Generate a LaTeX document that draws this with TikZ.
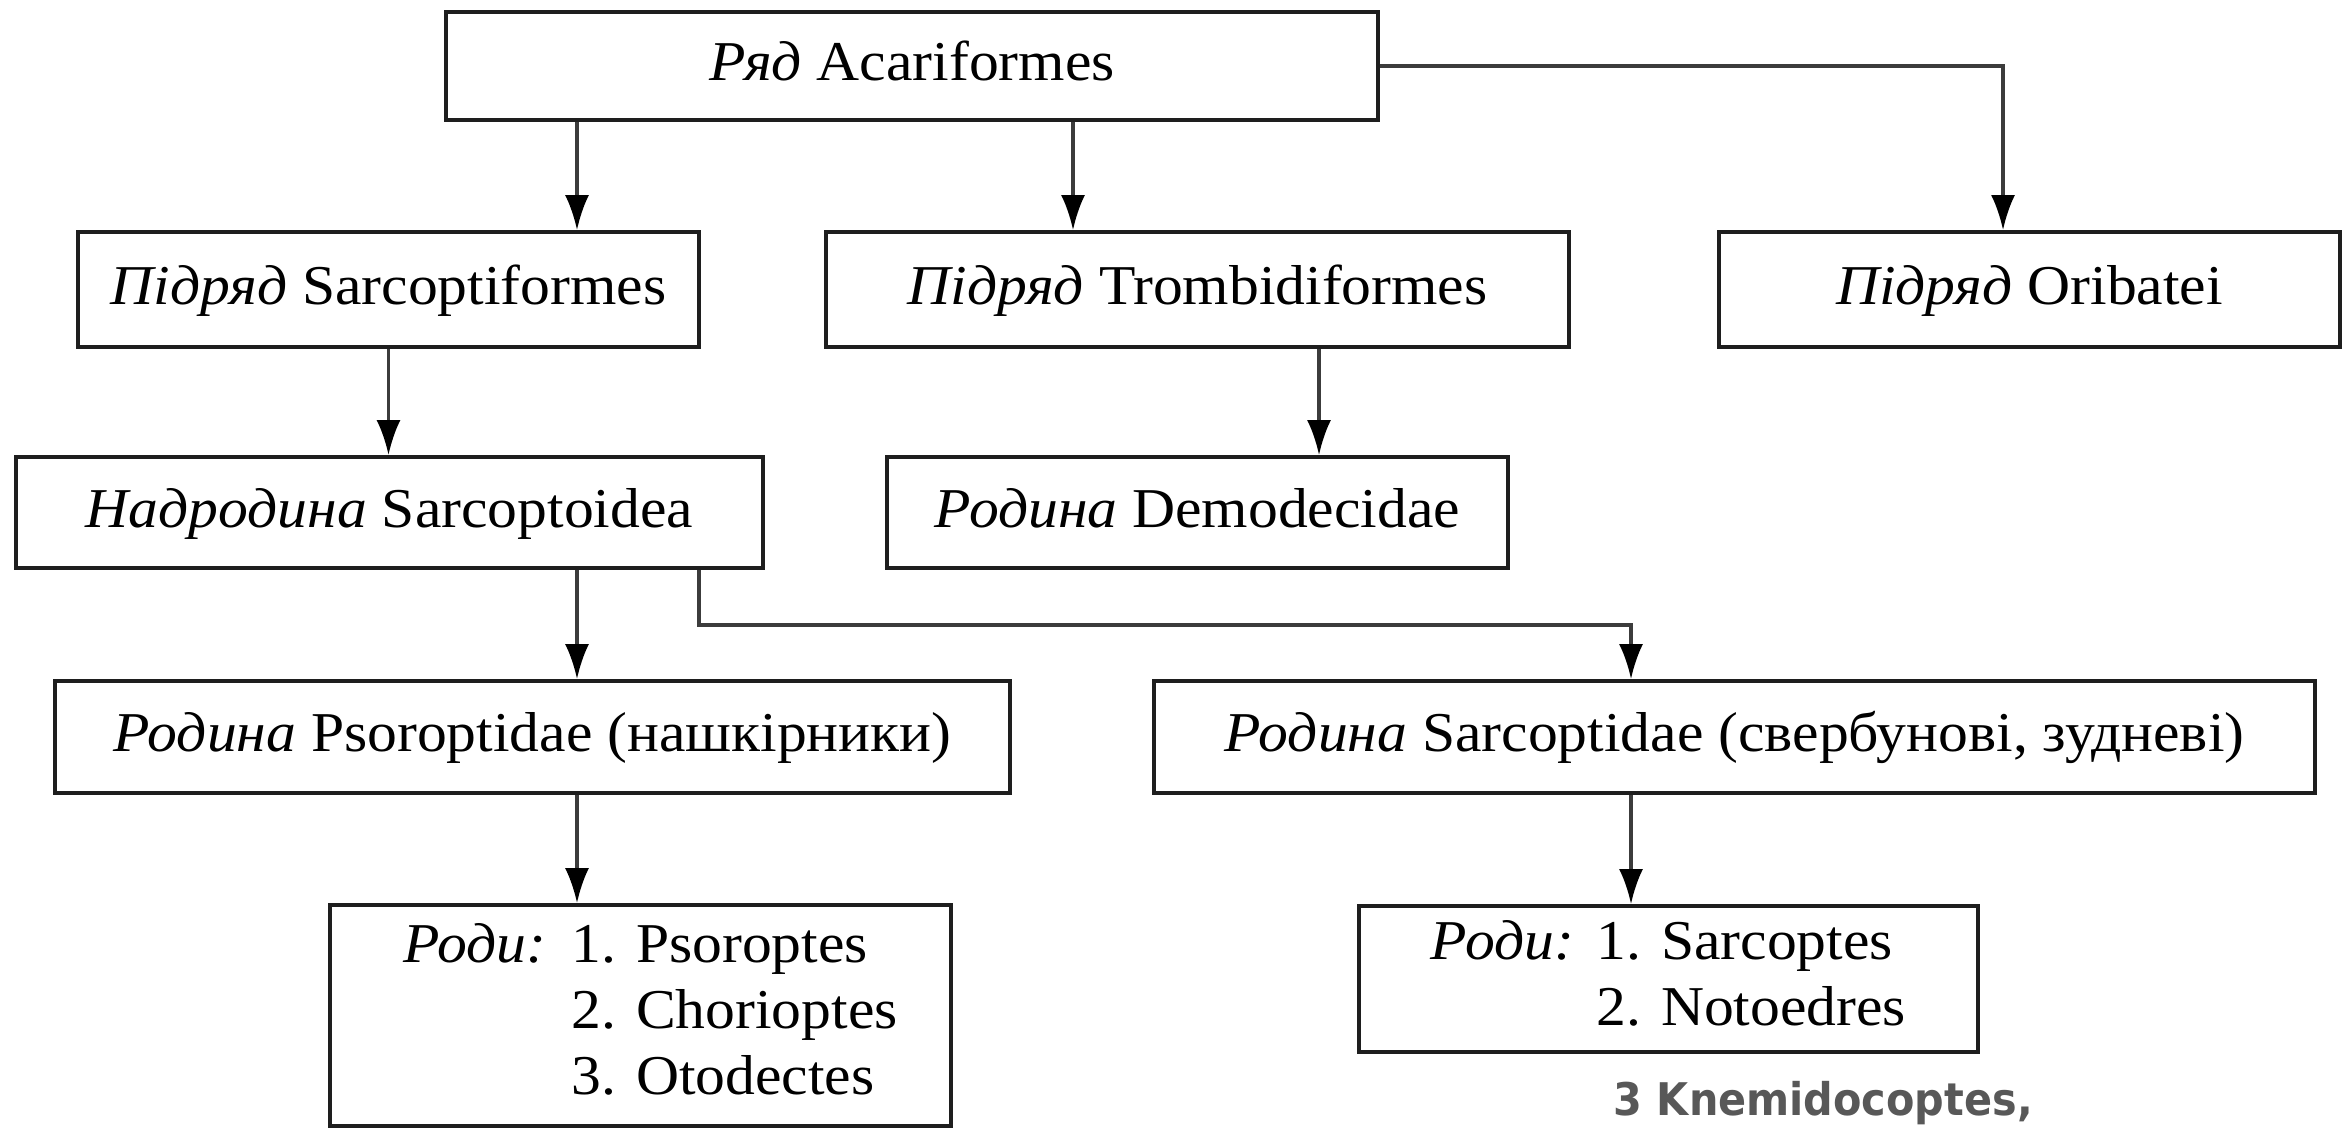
\documentclass[tikz,border=0pt]{standalone}
\usepackage{fontspec}
\setmainfont{Liberation Serif}[FakeStretch=1.06]
\newfontfamily\notefont{DejaVu Sans}
\usetikzlibrary{arrows.meta}
\definecolor{notegray}{HTML}{585858}
\definecolor{linegray}{HTML}{1E1E1E}
\definecolor{arrowgray}{HTML}{3C3C3C}

\begin{document}
\begin{tikzpicture}[>={Latex[length=3.5mm,width=2.4mm,color=black]},
   box/.style={draw=linegray, line width=1.1pt, inner sep=0pt,
      font=\fontsize{16}{18.8}\selectfont, text height=10pt, text depth=1.5pt},
   link/.style={->, draw=arrowgray, line width=0.95pt}]
   \useasboundingbox (0,0) rectangle (23.51,-11.28);

   % 枠
   \node[box, minimum width=9.32cm, minimum height=1.08cm] (ryad) at (9.12,-0.66) {\textit{Ряд} Acariformes};
   \node[box, minimum width=6.21cm, minimum height=1.15cm] (sarcf) at (3.885,-2.895) {\textit{Підряд} Sarcoptiformes};
   \node[box, minimum width=7.43cm, minimum height=1.15cm] (tromb) at (11.975,-2.895) {\textit{Підряд} Trombidiformes};
   \node[box, minimum width=6.21cm, minimum height=1.15cm] (orib) at (20.295,-2.895) {\textit{Підряд} Oribatei};
   \node[box, minimum width=7.47cm, minimum height=1.11cm] (sarcoid) at (3.895,-5.125) {\textit{Надродина} Sarcoptoidea};
   \node[box, minimum width=6.21cm, minimum height=1.11cm] (demod) at (11.975,-5.125) {\textit{Родина} Demodecidae};
   \node[box, minimum width=9.55cm, minimum height=1.12cm] (psor) at (5.325,-7.37) {\textit{Родина} Psoroptidae (нашкірники)};
   \node[box, minimum width=11.61cm, minimum height=1.12cm] (sarcid) at (17.345,-7.37) {\textit{Родина} Sarcoptidae (свербунові, зудневі)};
   \node[box, minimum width=6.21cm, minimum height=2.21cm, text height=, text depth=] (rodyL) at (6.405,-10.155)
      {\begin{tabular}{@{\hspace{0.2cm}}l@{\hspace{0.45em}}l@{}}\textit{Роди:} & 1. Psoroptes\\ & 2. Chorioptes\\ & 3. Otodectes\end{tabular}};
   \node[box, minimum width=6.19cm, minimum height=1.46cm, text height=, text depth=] (rodyR) at (16.685,-9.79)
      {\begin{tabular}{@{}l@{\hspace{0.4em}}l@{}}\textit{Роди:} & 1. Sarcoptes\\ & 2. Notoedres\end{tabular}};
   \node[anchor=base west, inner sep=0pt, text=notegray, font=\notefont\bfseries\fontsize{12.8}{15}\selectfont] (knemid) at (16.13,-11.15) {\scalebox{0.92}[1]{3 Knemidocoptes,}};

   % 矢印の位置
   \coordinate (colA) at (5.77,0);
   \coordinate (colB) at (10.73,0);
   \coordinate (colC) at (20.03,0);
   \coordinate (colD) at (13.19,0);
   \coordinate (colE) at (6.99,0);
   \coordinate (colF) at (16.31,0);

   % 矢印
   \draw[link] (ryad.south -| colA) -- (sarcf.north -| colA);
   \draw[link] (ryad.south -| colB) -- (tromb.north -| colB);
   \draw[link] (ryad.east) -| (orib.north -| colC);
   \draw[link] (sarcf.south) -- (sarcf.south |- sarcoid.north);
   \draw[link] (tromb.south -| colD) -- (demod.north -| colD);
   \draw[link] (sarcoid.south -| colA) -- (psor.north -| colA);
   \draw[link] (sarcoid.south -| colE) -- ++(0,-0.55) -| (sarcid.north -| colF);
   \draw[link] (psor.south -| colA) -- (rodyL.north -| colA);
   \draw[link] (sarcid.south -| colF) -- (rodyR.north -| colF);

\end{tikzpicture}
\end{document}
